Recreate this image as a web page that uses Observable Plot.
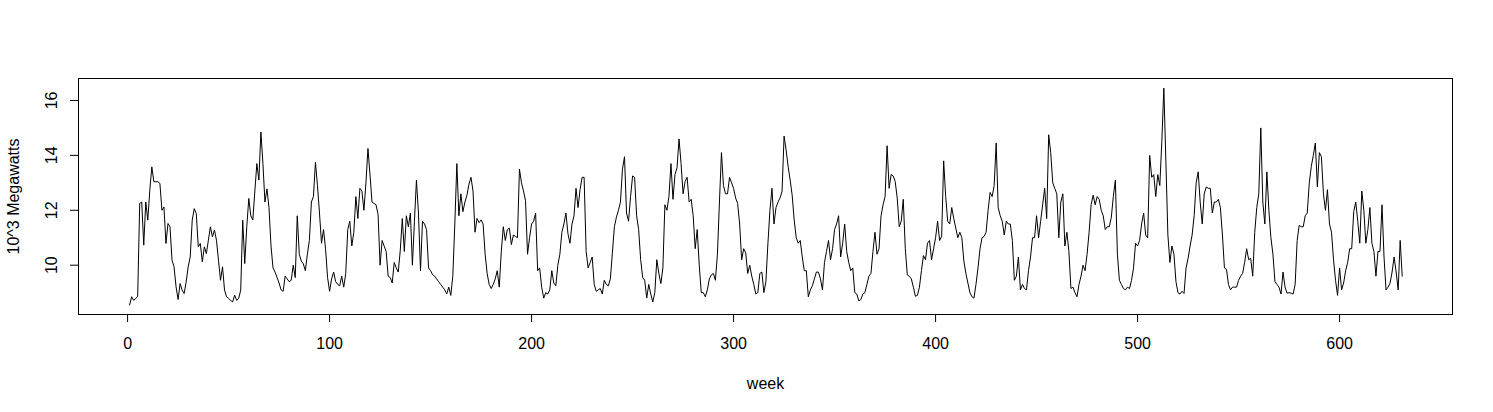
<!DOCTYPE html>
<html>
<head>
<meta charset="utf-8">
<script src="https://cdn.jsdelivr.net/npm/d3@7"></script>
<script src="https://cdn.jsdelivr.net/npm/@observablehq/plot@0.6"></script>
<style>
  html, body { margin: 0; padding: 0; background: #ffffff; }
  #chart { width: 1493px; height: 412px; }
</style>
</head>
<body>
<div id="chart"></div>
<script>
// Weekly electricity load, weeks 1..631 (values in 10^3 megawatts)
const megawatts = [
  8.55, 8.85, 8.72, 8.78, 8.87, 12.25, 12.3, 10.73, 12.3, 11.64,
  12.73, 13.58, 13.04, 13.04, 13.04, 12.98, 12.0, 12.12, 10.79, 11.52,
  11.4, 10.18, 9.94, 9.21, 8.75, 9.33, 9.09, 8.97, 9.39, 9.94,
  10.3, 11.64, 12.06, 11.88, 10.67, 10.79, 10.12, 10.67, 10.42, 10.91,
  11.4, 11.03, 11.28, 10.91, 10.18, 9.45, 9.94, 9.09, 8.85, 8.79,
  8.72, 8.66, 8.91, 8.72, 8.79, 9.09, 11.64, 10.06, 11.4, 12.43,
  11.8, 11.65, 12.7, 13.7, 13.1, 14.85, 13.7, 12.3, 12.78, 12.1,
  10.7, 9.9, 9.75, 9.55, 9.35, 9.1, 9.05, 9.6, 9.5, 9.4,
  9.45, 10.0, 9.55, 11.8, 10.4, 10.15, 10.05, 9.8, 10.4, 10.9,
  12.3, 12.5, 13.75, 12.9, 11.9, 10.8, 11.3, 10.6, 9.55, 9.05,
  9.5, 9.75, 9.4, 9.3, 9.25, 9.6, 9.2, 9.7, 11.3, 11.6,
  10.7, 11.2, 12.5, 11.7, 12.8, 12.7, 12.0, 13.0, 14.25, 13.3,
  12.3, 12.25, 12.2, 11.85,
  10.0, 10.9, 10.7, 10.5, 9.6, 9.55, 9.35, 10.1, 9.9, 9.75,
  10.55, 11.7, 10.5, 11.8, 11.4, 11.9, 10.0, 11.6, 13.1, 11.9,
  9.8, 11.6, 11.5, 11.3, 9.9, 9.8, 9.65, 9.6, 9.5, 9.4,
  9.3, 9.2, 9.1, 8.95, 9.2, 8.9, 9.6, 11.5, 13.7, 11.8,
  12.6, 11.95, 12.3, 12.55, 12.95, 13.2, 12.7, 11.2, 11.7, 11.55,
  11.65, 11.5, 10.4, 9.7, 9.3, 9.15, 9.3, 9.5, 9.8, 9.2,
  10.5, 11.4, 10.9,
  11.3, 11.35, 10.75, 11.1, 11.05, 11.0, 13.5, 13.0, 12.7, 12.35,
  10.4, 11.0, 11.5, 11.6, 11.9, 9.8, 9.9, 9.2, 8.8, 9.0,
  8.95, 9.1, 9.8, 9.35, 9.25, 10.0, 10.4, 11.2, 11.5, 11.9,
  11.15, 10.8, 11.5, 11.8, 12.8, 12.1, 12.75, 13.2, 13.2, 10.5,
  9.9, 10.1, 10.3, 9.3, 9.05, 9.1, 9.15, 8.95, 9.45, 9.3,
  9.25, 9.5, 10.45, 11.4, 11.75, 12.0, 12.3, 13.5, 13.95, 11.9,
  11.6, 12.5, 13.25, 13.2,
  11.8, 11.3, 10.2, 9.55, 9.45, 8.8, 9.3, 8.95, 8.66, 9.0,
  10.2, 9.7, 9.33, 9.9, 12.2, 12.0, 12.5, 13.7, 12.4, 13.3,
  13.55, 14.6, 13.7, 12.6, 13.05, 13.2, 12.3, 12.4, 11.8, 10.6,
  11.3, 10.0, 9.0, 9.0, 8.85, 9.1, 9.5, 9.65, 9.7, 9.45,
  10.4, 12.3, 14.1, 12.9, 12.6, 12.6, 13.2, 13.0, 12.8, 12.45,
  12.25, 11.5, 10.2, 10.6, 10.45, 9.7, 10.0, 9.6, 9.3, 8.95,
  9.0, 9.7, 9.75,
  9.0, 9.4, 10.8, 12.0, 12.8, 11.5, 12.1, 12.3, 12.45, 12.7,
  14.7, 14.2, 13.6, 13.1, 12.55, 11.65, 11.0, 10.8, 10.9, 10.3,
  9.8, 9.8, 8.85, 9.1, 9.25, 9.5, 9.75, 9.75, 9.5, 9.1,
  10.1, 10.5, 10.9, 10.2, 10.6, 11.3, 11.5, 11.8, 10.3, 10.8,
  11.5, 10.5, 10.1, 9.8, 9.9, 9.0, 8.95, 8.7, 8.75, 8.95,
  9.0, 9.3, 9.6, 9.7, 10.5, 11.2, 10.4, 10.6, 11.8, 12.2,
  12.5, 14.35, 12.8,
  13.3, 13.25, 13.05, 12.45, 11.4, 11.6, 12.4, 10.6, 9.65, 9.6,
  9.5, 9.2, 8.87, 8.9, 9.2, 9.8, 10.35, 10.2, 10.8, 10.9,
  10.2, 10.6, 11.0, 11.6, 10.9, 11.05, 13.8, 12.5, 11.6, 11.5,
  12.1, 11.7, 11.35, 11.0, 11.2, 11.0, 10.15, 9.7, 9.35, 9.0,
  8.85, 8.8, 9.3, 9.9, 10.6, 11.0, 11.05, 11.2, 12.0, 12.65,
  12.5, 12.9, 14.45, 12.1, 11.8, 11.6, 11.1, 11.6, 11.5, 11.5,
  10.9, 9.45, 9.6, 10.3,
  9.1, 9.3, 9.15, 9.1, 9.8, 10.3, 11.0, 11.0, 11.8, 11.0,
  11.6, 12.2, 12.8, 11.7, 14.75, 14.1, 13.0, 12.8, 12.6, 11.0,
  12.3, 12.6, 10.7, 11.2, 10.5, 9.15, 9.2, 9.0, 8.85, 9.3,
  9.6, 10.0, 9.8, 10.4, 11.2, 12.2, 12.55, 12.2, 12.5, 12.4,
  12.0, 11.8, 11.3, 11.4, 11.4, 11.75, 12.5, 13.1, 10.4, 9.45,
  9.3, 9.15, 9.1, 9.2, 9.15, 9.45, 9.9, 10.8, 10.7, 10.9,
  11.5, 11.9, 11.1,
  11.0, 14.0, 13.2, 13.3, 12.5, 13.3, 12.9, 14.5, 16.45, 13.8,
  11.1, 10.1, 10.7, 10.4, 9.4, 9.0, 8.95, 9.05, 8.97, 9.9,
  10.25, 10.7, 11.1, 11.8, 13.0, 13.4, 12.3, 11.5, 12.6, 12.85,
  12.8, 12.8, 11.9, 12.3, 12.3, 12.4, 12.1, 11.1, 9.9, 9.85,
  9.3, 9.1, 9.2, 9.2, 9.2, 9.45, 9.6, 9.7, 10.1, 10.6,
  10.2, 10.25, 9.6, 11.2, 12.1, 12.6, 15.0, 12.3, 11.5, 13.4,
  12.0, 11.0, 10.4,
  9.4, 9.3, 9.2, 8.95, 9.75, 9.2, 8.98, 9.0, 8.98, 8.95,
  9.3, 10.9, 11.45, 11.4, 11.4, 11.8, 11.9, 13.0, 13.6, 14.0,
  14.45, 12.85, 14.1, 13.95, 12.6, 12.0, 12.75, 11.5, 11.2, 10.2,
  9.45, 8.9, 9.9, 9.1, 9.35, 9.8, 10.1, 10.6, 10.6, 11.95,
  12.3, 11.6, 10.8, 12.7, 12.0, 10.8, 11.3, 12.1, 10.8, 10.5,
  9.6, 10.5, 10.5, 12.2, 10.3, 9.1, 9.2, 9.35, 9.75, 10.3,
  9.75, 9.1, 10.9, 9.6
];
const weekTicks = [0, 100, 200, 300, 400, 500, 600];
const mwTicks = [10, 12, 14, 16];
const xTitle = "week";
const yTitle = "10^3 Megawatts";

const data = megawatts.map((v, i) => ({week: i + 1, mw: v}));

const chart = Plot.plot({
  width: 1493,
  height: 412,
  marginLeft: 78,
  marginRight: 41,
  marginTop: 78,
  marginBottom: 98,
  x: {domain: [-24.3, 655.9]},
  y: {domain: [8.204, 16.80]},
  style: {fontFamily: "'Liberation Sans', Arial, sans-serif", fontSize: "16px", color: "#000", background: "#fff", overflow: "visible"},
  marks: [
    Plot.frame({stroke: "#000", strokeWidth: 1}),
    Plot.line(data, {x: "week", y: "mw", stroke: "#000", strokeWidth: 1}),
    Plot.axisX({ticks: weekTicks, tickSize: 8, tickPadding: 15, tickFormat: d => String(d),
      label: xTitle, labelAnchor: "center", labelOffset: 74, labelArrow: "none", fontSize: 16}),
    Plot.axisY({ticks: mwTicks, tickSize: 8, tickRotate: -90, tickPadding: 14, tickFormat: d => String(d),
      label: yTitle, labelAnchor: "center", labelOffset: 71, labelArrow: "none", fontSize: 16})
  ]
});
document.getElementById("chart").appendChild(chart);
</script>
</body>
</html>
